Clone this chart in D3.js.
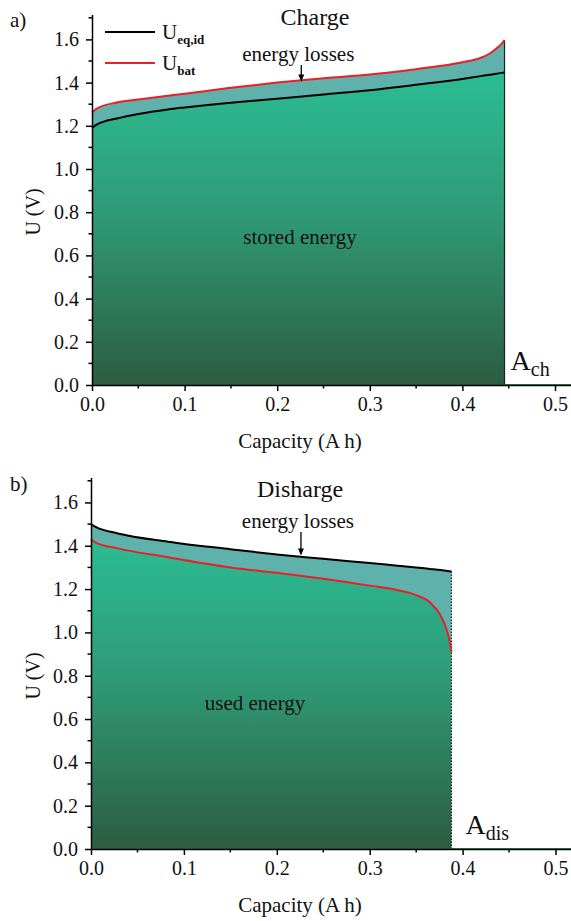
<!DOCTYPE html>
<html>
<head>
<meta charset="utf-8">
<script src="https://cdn.jsdelivr.net/npm/d3@7/dist/d3.min.js"></script>
<style>
    body { margin: 0; background: #fff; }
    svg text { font-family: "Liberation Serif", "Times New Roman", serif; fill: #111; }
</style>
</head>
<body>
<div id="chart"></div>
<script>
// values
let yTicks = [0, 0.2, 0.4, 0.6, 0.8, 1.0, 1.2, 1.4, 1.6];
let yTickLabels = ["0.0", "0.2", "0.4", "0.6", "0.8", "1.0", "1.2", "1.4", "1.6"];
let yMinor = [0.1, 0.3, 0.5, 0.7, 0.9, 1.1, 1.3, 1.5, 1.7];
let xTicks = [0, 0.1, 0.2, 0.3, 0.4, 0.5];
let xTickLabels = ["0.0", "0.1", "0.2", "0.3", "0.4", "0.5"];
let xMinor = [0.05, 0.15, 0.25, 0.35, 0.45];

// a) charge
let chargeCap = [0, 0.005, 0.028, 0.05, 0.082, 0.1, 0.15, 0.2, 0.25, 0.3, 0.35, 0.4, 0.42, 0.43, 0.437, 0.442, 0.4455];
let chargeEq  = [1.19, 1.205, 1.235, 1.255, 1.276, 1.285, 1.307, 1.325, 1.345, 1.365, 1.39, 1.417, 1.43, 1.436, 1.441, 1.445, 1.447];
let chargeBat = [1.261, 1.28, 1.309, 1.322, 1.339, 1.348, 1.376, 1.40, 1.42, 1.437, 1.462, 1.494, 1.515, 1.536, 1.559, 1.578, 1.597];

// b) discharge
let dischargeCap = [0, 0.005, 0.029, 0.083, 0.15, 0.2, 0.25, 0.3, 0.33, 0.35, 0.365, 0.376, 0.383, 0.3865, 0.388];
let dischargeEq  = [1.50, 1.487, 1.457, 1.419, 1.384, 1.36, 1.34, 1.32, 1.308, 1.30, 1.293, 1.288, 1.284, 1.282, 1.28];
let dischargeBat = [1.43, 1.415, 1.388, 1.347, 1.30, 1.275, 1.248, 1.216, 1.195, 1.172, 1.138, 1.08, 1.01, 0.95, 0.91];

let svg = d3.select("#chart").append("svg")
    .attr("width", 571)
    .attr("height", 921);

let defs = svg.append("defs");

function drawPanel(cfg) {
    let vis = {};

    vis.x = d3.scaleLinear().domain([0, 0.52]).range([cfg.left, cfg.left + 0.52 * cfg.xUnit]);
    vis.y = d3.scaleLinear().domain([0, 1.715]).range([cfg.bottom, cfg.bottom - 1.715 * cfg.yUnit]);

    vis.g = svg.append("g");

    // vertical gradient for the energy area
    let grad = defs.append("linearGradient")
        .attr("id", cfg.id + "-grad")
        .attr("gradientUnits", "userSpaceOnUse")
        .attr("x1", 0).attr("x2", 0)
        .attr("y1", vis.y(1.45)).attr("y2", vis.y(0));
    grad.append("stop").attr("offset", "0%").attr("stop-color", "#2bbd93");
    grad.append("stop").attr("offset", "45%").attr("stop-color", "#2f9b77");
    grad.append("stop").attr("offset", "100%").attr("stop-color", "#2d5c42");

    let pts = cfg.cap.map(function(c, i) {
        return { c: c, eq: cfg.eq[i], bat: cfg.bat[i] };
    });

    let lowArea = d3.area()
        .curve(d3.curveMonotoneX)
        .x(function(d) { return vis.x(d.c); })
        .y0(vis.y(0))
        .y1(function(d) { return vis.y(Math.min(d.eq, d.bat)); });

    let bandArea = d3.area()
        .curve(d3.curveMonotoneX)
        .x(function(d) { return vis.x(d.c); })
        .y0(function(d) { return vis.y(Math.min(d.eq, d.bat)); })
        .y1(function(d) { return vis.y(Math.max(d.eq, d.bat)); });

    vis.g.append("path")
        .datum(pts)
        .attr("fill", "#5fb1ab")
        .attr("d", bandArea);

    vis.g.append("path")
        .datum(pts)
        .attr("fill", "url(#" + cfg.id + "-grad)")
        .attr("d", lowArea);

    let last = pts[pts.length - 1];

    // right edge of the filled area
    let edge = vis.g.append("line")
        .attr("x1", vis.x(last.c)).attr("x2", vis.x(last.c))
        .attr("y1", vis.y(0))
        .attr("y2", vis.y(Math.max(last.eq, last.bat)))
        .attr("stroke", "#222")
        .attr("stroke-width", 1.2);
    if (cfg.dotted) {
        edge.attr("stroke-dasharray", "1.5 1.5");
    }

    // green baseline continuing past the fill
    vis.g.append("line")
        .attr("x1", vis.x(last.c)).attr("x2", vis.x(0.52))
        .attr("y1", vis.y(0)).attr("y2", vis.y(0))
        .attr("stroke", "#2e8b4e")
        .attr("stroke-width", 2);

    let lineEq = d3.line()
        .curve(d3.curveMonotoneX)
        .x(function(d) { return vis.x(d.c); })
        .y(function(d) { return vis.y(d.eq); });
    let lineBat = d3.line()
        .curve(d3.curveMonotoneX)
        .x(function(d) { return vis.x(d.c); })
        .y(function(d) { return vis.y(d.bat); });

    vis.g.append("path")
        .datum(pts)
        .attr("fill", "none")
        .attr("stroke", "#e8202a")
        .attr("stroke-width", 2)
        .attr("d", lineBat);

    vis.g.append("path")
        .datum(pts)
        .attr("fill", "none")
        .attr("stroke", "#000")
        .attr("stroke-width", 2)
        .attr("d", lineEq);

    // axes
    let yAxis = d3.axisLeft(vis.y)
        .tickValues(yTicks)
        .tickFormat(function(d, i) { return yTickLabels[i]; })
        .tickSize(6)
        .tickSizeOuter(0)
        .tickPadding(7);
    let yAx = vis.g.append("g")
        .attr("transform", "translate(" + cfg.left + ",0)")
        .call(yAxis);
    yAx.selectAll(".minor")
        .data(yMinor).enter().append("line")
        .attr("class", "minor")
        .attr("x1", -3.5).attr("x2", 0)
        .attr("y1", function(d) { return vis.y(d); })
        .attr("y2", function(d) { return vis.y(d); })
        .attr("stroke", "#000").attr("stroke-width", 1.5);

    let xAxis = d3.axisBottom(vis.x)
        .tickValues(xTicks)
        .tickFormat(function(d, i) { return xTickLabels[i]; })
        .tickSize(6)
        .tickSizeOuter(0)
        .tickPadding(6);
    let xAx = vis.g.append("g")
        .attr("transform", "translate(0," + cfg.bottom + ")")
        .call(xAxis);
    xAx.selectAll(".minor")
        .data(xMinor).enter().append("line")
        .attr("class", "minor")
        .attr("y1", 0).attr("y2", 3.5)
        .attr("x1", function(d) { return vis.x(d); })
        .attr("x2", function(d) { return vis.x(d); })
        .attr("stroke", "#000").attr("stroke-width", 1.5);

    [yAx, xAx].forEach(function(ax) {
        ax.select(".domain").attr("stroke", "#000").attr("stroke-width", 1.5);
        ax.selectAll(".tick line").attr("stroke", "#000").attr("stroke-width", 1.5);
        ax.selectAll(".tick text")
            .attr("font-size", 20)
            .attr("font-family", "Liberation Serif")
            .attr("fill", "#111");
    });

    // axis titles
    vis.g.append("text")
        .attr("transform", "translate(" + 40 + "," + (cfg.bottom - 173) + ") rotate(-90)")
        .attr("text-anchor", "middle")
        .attr("font-size", 20)
        .text("U (V)");

    vis.g.append("text")
        .attr("x", 300)
        .attr("y", cfg.bottom + 63)
        .attr("text-anchor", "middle")
        .attr("font-size", 21)
        .text("Capacity (A h)");

    // panel letter and title
    vis.g.append("text")
        .attr("x", 10)
        .attr("y", cfg.bottom - 358)
        .attr("font-size", 21)
        .text(cfg.letter);

    vis.g.append("text")
        .attr("x", cfg.titleX)
        .attr("y", cfg.bottom - 360 + cfg.titleDy)
        .attr("text-anchor", "middle")
        .attr("font-size", 24)
        .text(cfg.title);

    // energy losses note with arrow
    vis.g.append("text")
        .attr("x", vis.x(cfg.lossCap) - 3)
        .attr("y", cfg.lossY)
        .attr("text-anchor", "middle")
        .attr("font-size", 21)
        .text("energy losses");

    let arrowTip = vis.y(cfg.lossTip);
    vis.g.append("line")
        .attr("x1", vis.x(cfg.lossCap)).attr("x2", vis.x(cfg.lossCap))
        .attr("y1", cfg.lossY + 4).attr("y2", arrowTip - 5)
        .attr("stroke", "#000").attr("stroke-width", 1.3);
    vis.g.append("path")
        .attr("d", "M" + (vis.x(cfg.lossCap) - 3) + "," + (arrowTip - 7) +
            "L" + (vis.x(cfg.lossCap) + 3) + "," + (arrowTip - 7) +
            "L" + vis.x(cfg.lossCap) + "," + arrowTip + "Z")
        .attr("fill", "#000");

    // area label
    vis.g.append("text")
        .attr("x", cfg.areaX)
        .attr("y", cfg.areaY)
        .attr("text-anchor", "middle")
        .attr("font-size", 21)
        .text(cfg.areaLabel);

    // A label
    let aText = vis.g.append("text")
        .attr("x", vis.x(last.c) + cfg.aGap)
        .attr("y", cfg.bottom - 15)
        .attr("font-size", 28)
        .text("A");
    aText.append("tspan")
        .attr("font-size", 20)
        .attr("dy", 6)
        .text(cfg.aSub);

    return vis;
}

let chargeVis = drawPanel({
    id: "charge", left: 92, bottom: 385, xUnit: 926, yUnit: 216,
    cap: chargeCap, eq: chargeEq, bat: chargeBat,
    letter: "a)", title: "Charge", titleX: 315, titleDy: 0,
    lossCap: 0.226, lossY: 61, lossTip: 1.405,
    areaLabel: "stored energy", areaX: 300, areaY: 244,
    aSub: "ch", aGap: 6, dotted: false
});

let dischargeVis = drawPanel({
    id: "discharge", left: 91, bottom: 849, xUnit: 929, yUnit: 216.6,
    cap: dischargeCap, eq: dischargeEq, bat: dischargeBat,
    letter: "b)", title: "Disharge", titleX: 300, titleDy: 8,
    lossCap: 0.226, lossY: 528, lossTip: 1.355,
    areaLabel: "used energy", areaX: 255, areaY: 710,
    aSub: "dis", aGap: 14, dotted: true
});

// legend (top panel)
let legend = svg.append("g");
let legendItems = [
    { color: "#000", sub: "eq,id", y: 32 },
    { color: "#e8202a", sub: "bat", y: 63 }
];
legendItems.forEach(function(d) {
    legend.append("line")
        .attr("x1", 105).attr("x2", 155)
        .attr("y1", d.y).attr("y2", d.y)
        .attr("stroke", d.color)
        .attr("stroke-width", 2);
    let t = legend.append("text")
        .attr("x", 162)
        .attr("y", d.y + 7)
        .attr("font-size", 21)
        .text("U");
    t.append("tspan")
        .attr("font-size", 13)
        .attr("font-weight", "bold")
        .attr("dy", 5)
        .text(d.sub);
});
</script>
</body>
</html>
